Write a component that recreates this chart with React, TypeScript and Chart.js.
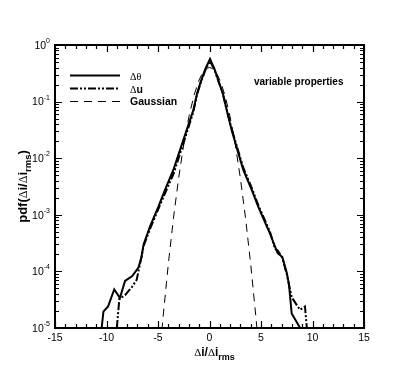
import React, { useEffect, useRef } from "react";
import { Chart, registerables } from "chart.js";

Chart.register(...registerables);

// Δθ (solid)
const thetaX = [-10.47, -10.3, -9.85, -9.25, -8.7, -8.2, -7.5, -6.9, -6.6, -6.4, -5.78, -4.97, -4.32, -3.51, -2.86, -2.21, -1.57, -1.2, -0.8, -0.4, 0.05, 0.5, 0.9, 1.3, 1.67, 2.15, 2.8, 3.28, 4.1, 4.74, 5.55, 5.87, 6.36, 6.62, 7.07, 7.5, 7.72, 7.98, 8.8];
const thetaY = [1.0e-5, 1.95e-5, 2.4e-5, 4.8e-5, 3.4e-5, 6.8e-5, 8.3e-5, 1.17e-4, 1.8e-4, 3.0e-4, 6.2e-4, 1.38e-3, 2.75e-3, 6.2e-3, 0.014, 0.0316, 0.071, 0.141, 0.24, 0.38, 0.57, 0.37, 0.224, 0.138, 0.071, 0.0316, 0.0123, 6.2e-3, 2.75e-3, 1.38e-3, 6.3e-4, 4.7e-4, 2.75e-4, 2.1e-4, 1.8e-4, 9.5e-5, 5.8e-5, 1.8e-5, 1.0e-5];

// Δu (dash-dot-dot)
const uX = [-9.0, -8.75, -8.2, -7.5, -7.07, -6.75, -6.4, -5.78, -4.97, -4.32, -3.51, -2.86, -2.21, -1.57, -1.2, -0.8, -0.4, 0.05, 0.5, 0.9, 1.3, 1.67, 2.15, 2.8, 3.28, 4.1, 4.74, 5.55, 5.87, 6.36, 6.62, 7.07, 7.5, 7.98, 8.5, 8.79, 9.27, 9.45];
const uY = [1.0e-5, 3.3e-5, 3.8e-5, 5.4e-5, 7.1e-5, 1.35e-4, 2.8e-4, 5.6e-4, 1.26e-3, 2.4e-3, 5.2e-3, 0.012, 0.028, 0.066, 0.135, 0.23, 0.36, 0.52, 0.355, 0.22, 0.138, 0.072, 0.033, 0.0132, 6.8e-3, 3.0e-3, 1.48e-3, 6.8e-4, 5.0e-4, 2.5e-4, 2.35e-4, 1.74e-4, 8.9e-5, 3.5e-5, 2.5e-5, 2.1e-5, 2.4e-5, 1.0e-5];

// Gaussian (dashed)
const gaussX = [-4.75, -4.5, -4, -3.5, -3, -2.5, -2, -1.5, -1, -0.75, -0.5, -0.25, 0, 0.25, 0.5, 0.75, 1, 1.5, 2, 2.5, 3, 3.5, 4, 4.5, 4.75];
const gaussY = [5.1e-6, 1.6e-5, 1.34e-4, 8.7e-4, 4.4e-3, 0.0175, 0.054, 0.13, 0.242, 0.301, 0.352, 0.387, 0.399, 0.387, 0.352, 0.301, 0.242, 0.13, 0.054, 0.0175, 4.4e-3, 8.7e-4, 1.34e-4, 1.6e-5, 5.1e-6];

const xTickLabels = [-15, -10, -5, 0, 5, 10, 15];
const yDecades = [-5, -4, -3, -2, -1, 0];
const legendLabels = ["θ", "u", "Gaussian"];
const annotation = "variable properties";

const pts = (xs: number[], ys: number[]) => xs.map((x, i) => ({ x, y: ys[i] }));

const SANS = "'Liberation Sans', Arial, sans-serif";
const SERIF = "'Liberation Serif', 'Times New Roman', serif";

type Seg = { t: string; font: string; dy: number };

function segWidth(ctx: CanvasRenderingContext2D, segs: Seg[]) {
  let w = 0;
  for (const s of segs) {
    ctx.font = s.font;
    w += ctx.measureText(s.t).width;
  }
  return w;
}
function drawSegs(ctx: CanvasRenderingContext2D, segs: Seg[], x: number, y: number) {
  let cx = x;
  ctx.textAlign = "left";
  ctx.textBaseline = "alphabetic";
  for (const s of segs) {
    ctx.font = s.font;
    ctx.fillText(s.t, cx, y + s.dy);
    cx += ctx.measureText(s.t).width;
  }
}

const framePlugin = {
  id: "framePlugin",
  afterDraw(chart: any) {
    const ctx: CanvasRenderingContext2D = chart.ctx;
    const a = chart.chartArea;
    const xs = chart.scales.x;
    const ys = chart.scales.y;
    ctx.save();
    ctx.strokeStyle = "#000";
    ctx.fillStyle = "#000";
    // frame
    ctx.lineWidth = 2;
    ctx.strokeRect(a.left, a.top, a.right - a.left, a.bottom - a.top);
    // x ticks
    ctx.lineWidth = 1.2;
    ctx.beginPath();
    for (let v = -15; v <= 15; v++) {
      const px = Math.round(xs.getPixelForValue(v)) + 0.5;
      const len = v % 5 === 0 ? 7 : 4;
      ctx.moveTo(px, a.bottom);
      ctx.lineTo(px, a.bottom - len);
      ctx.moveTo(px, a.top);
      ctx.lineTo(px, a.top + len);
    }
    // y ticks
    for (const d of yDecades) {
      for (let m = 1; m <= 9; m++) {
        if (d === 0 && m > 1) break;
        const py = Math.round(ys.getPixelForValue(m * Math.pow(10, d))) + 0.5;
        const len = m === 1 ? 7 : 4;
        ctx.moveTo(a.left, py);
        ctx.lineTo(a.left + len, py);
        ctx.moveTo(a.right, py);
        ctx.lineTo(a.right - len, py);
      }
    }
    ctx.stroke();

    // x tick labels
    ctx.font = `10.5px ${SANS}`;
    ctx.textAlign = "center";
    ctx.textBaseline = "middle";
    for (const v of xTickLabels) {
      ctx.fillText(String(v), xs.getPixelForValue(v), a.bottom + 10);
    }
    // y tick labels
    for (const d of yDecades) {
      const py = ys.getPixelForValue(Math.pow(10, d));
      const exp = String(d);
      ctx.font = `7px ${SANS}`;
      ctx.textAlign = "right";
      ctx.textBaseline = "alphabetic";
      const ew = ctx.measureText(exp).width;
      ctx.fillText(exp, a.left - 5, py - 2);
      ctx.font = `10.5px ${SANS}`;
      ctx.textBaseline = "middle";
      ctx.fillText("10", a.left - 5 - ew, py + 1);
    }

    // x axis title
    const xt: Seg[] = [
      { t: "Δ", font: `11px ${SERIF}`, dy: 0 },
      { t: "i/", font: `bold 12px ${SANS}`, dy: 0 },
      { t: "Δ", font: `11px ${SERIF}`, dy: 0 },
      { t: "i", font: `bold 12px ${SANS}`, dy: 0 },
      { t: "rms", font: `bold 9px ${SANS}`, dy: 4 },
    ];
    const xw = segWidth(ctx, xt);
    drawSegs(ctx, xt, (a.left + a.right) / 2 + 5 - xw / 2, a.bottom + 28);

    // y axis title
    const yt: Seg[] = [
      { t: "pdf(", font: `bold 13px ${SANS}`, dy: 0 },
      { t: "Δ", font: `12px ${SERIF}`, dy: 0 },
      { t: "i/", font: `bold 13px ${SANS}`, dy: 0 },
      { t: "Δ", font: `12px ${SERIF}`, dy: 0 },
      { t: "i", font: `bold 13px ${SANS}`, dy: 0 },
      { t: "rms", font: `bold 9.5px ${SANS}`, dy: 4 },
      { t: ")", font: `bold 13px ${SANS}`, dy: 0 },
    ];
    const yw = segWidth(ctx, yt);
    ctx.save();
    ctx.translate(27, (a.top + a.bottom) / 2);
    ctx.rotate(-Math.PI / 2);
    drawSegs(ctx, yt, -yw / 2, 0);
    ctx.restore();

    // legend
    const lx0 = 70, lx1 = 120, tx = 130;
    const rows = [
      { y: 75.5, dash: [] as number[], w: 2 },
      { y: 88.5, dash: [8, 2, 2, 2, 2, 2], w: 2 },
      { y: 101.5, dash: [8, 6], w: 1 },
    ];
    rows.forEach((r) => {
      ctx.beginPath();
      ctx.lineWidth = r.w;
      ctx.setLineDash(r.dash);
      ctx.moveTo(lx0, r.y);
      ctx.lineTo(lx1, r.y);
      ctx.stroke();
    });
    ctx.setLineDash([]);
    drawSegs(ctx, [
      { t: "Δ", font: `10px ${SERIF}`, dy: 0 },
      { t: legendLabels[0], font: `10px ${SERIF}`, dy: 0 },
    ], tx, 79.5);
    drawSegs(ctx, [
      { t: "Δ", font: `10px ${SERIF}`, dy: 0 },
      { t: legendLabels[1], font: `bold 10.5px ${SANS}`, dy: 0 },
    ], tx, 92.5);
    drawSegs(ctx, [{ t: legendLabels[2], font: `bold 10.5px ${SANS}`, dy: 0 }], tx, 105);

    // annotation
    ctx.font = `bold 10px ${SANS}`;
    ctx.textAlign = "left";
    ctx.textBaseline = "alphabetic";
    ctx.fillText(annotation, 254, 84.5);
    ctx.restore();
  },
};

export default function App() {
  const ref = useRef<HTMLCanvasElement | null>(null);
  useEffect(() => {
    document.body.style.margin = "0";
    const canvas = ref.current;
    if (!canvas) return;
    const chart = new Chart(canvas, {
      type: "line",
      data: {
        datasets: [
          {
            label: "Δθ",
            data: pts(thetaX, thetaY),
            borderColor: "#000",
            borderWidth: 2,
            pointRadius: 0,
            tension: 0,
            clip: 0,
          },
          {
            label: "Δu",
            data: pts(uX, uY),
            borderColor: "#000",
            borderWidth: 2,
            borderDash: [8, 2, 2, 2, 2, 2],
            pointRadius: 0,
            tension: 0,
            clip: 0,
          },
          {
            label: "Gaussian",
            data: pts(gaussX, gaussY),
            borderColor: "#000",
            borderWidth: 1,
            borderDash: [8, 6],
            pointRadius: 0,
            tension: 0,
            clip: 0,
          },
        ],
      },
      options: {
        animation: false,
        responsive: false,
        devicePixelRatio: 1,
        layout: { padding: { left: 55, top: 45, right: 51, bottom: 42 } },
        plugins: { legend: { display: false }, tooltip: { enabled: false } },
        scales: {
          x: { type: "linear", min: -15, max: 15, display: false },
          y: { type: "logarithmic", min: 1e-5, max: 1, display: false },
        },
      },
      plugins: [framePlugin],
    } as any);
    return () => chart.destroy();
  }, []);
  return <canvas ref={ref} width={415} height={370} style={{ display: "block" }} />;
}
